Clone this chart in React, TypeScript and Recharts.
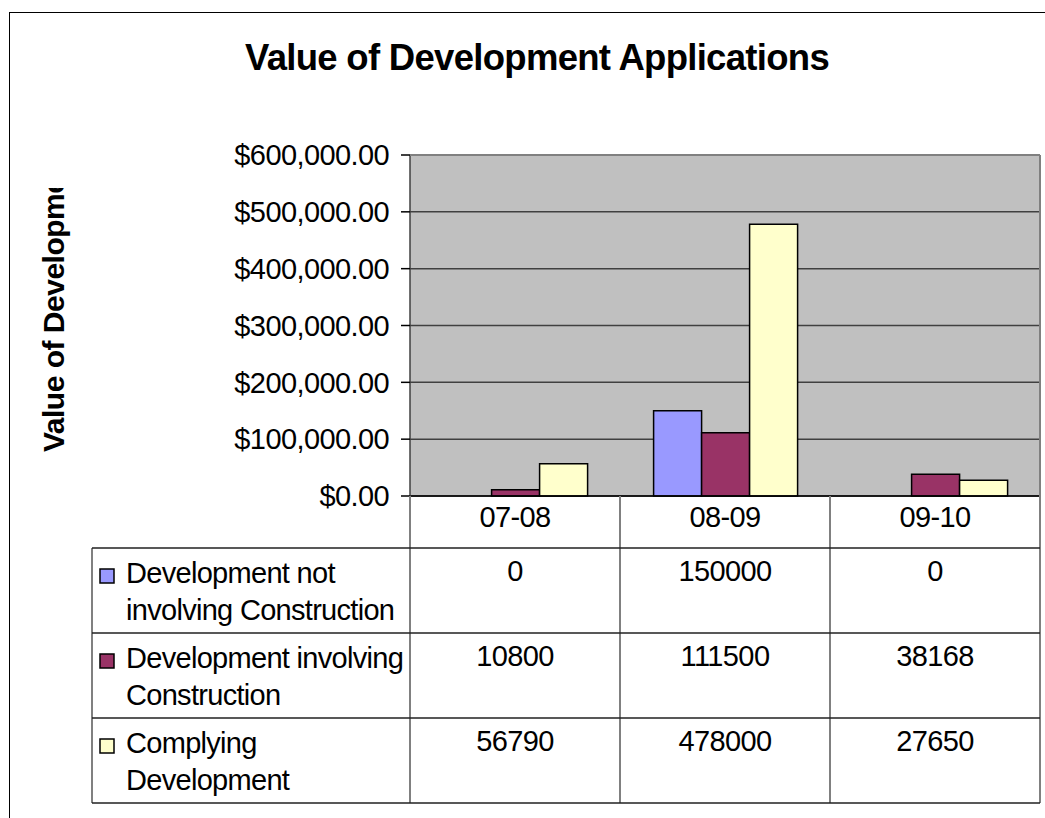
import { BarChart, Bar, XAxis, YAxis, CartesianGrid } from "recharts";

const categories = ["07-08", "08-09", "09-10"];
const notInvolvingConstruction = [0, 150000, 0];
const involvingConstruction = [10800, 111500, 38168];
const complyingDevelopment = [56790, 478000, 27650];
const yTicks = [0, 100000, 200000, 300000, 400000, 500000, 600000];

const seriesKeys = ["notInvolving", "involving", "complying"];
const seriesNames = [
  "Development not involving Construction",
  "Development involving Construction",
  "Complying Development",
];
const legendLines = [
  ["Development not", "involving Construction"],
  ["Development involving", "Construction"],
  ["Complying", "Development"],
];
const seriesColors = ["#9999FF", "#993366", "#FFFFCC"];
const seriesValues = [notInvolvingConstruction, involvingConstruction, complyingDevelopment];

const chartData = categories.map((cat, i) => ({
  cat,
  notInvolving: notInvolvingConstruction[i],
  involving: involvingConstruction[i],
  complying: complyingDevelopment[i],
}));

const W = 1045;
const H = 818;
const PLOT_L = 410;
const PLOT_R = 1040;
const PLOT_T = 155;
const PLOT_B = 496;
const Y_AXIS_W = 120;
const X_AXIS_H = 52;
const TABLE_L = 92;
const ROW_H = 85;
const FONT = "'Liberation Sans', Arial, sans-serif";
const TXT = 29;

const money = (v: number) =>
  "$" + v.toLocaleString("en-US", { minimumFractionDigits: 2, maximumFractionDigits: 2 });

const CategoryTick = (props: any) => {
  const { x, y, payload } = props;
  return (
    <text x={x} y={y + 31} textAnchor="middle" fontSize={TXT} fontFamily={FONT} fill="#000" letterSpacing={-0.6}>
      {payload.value}
    </text>
  );
};

const DataTable = () => {
  const colW = (PLOT_R - PLOT_L) / categories.length;
  const tableTop = PLOT_B + X_AXIS_H;
  const tableBottom = tableTop + ROW_H * seriesNames.length;
  return (
    <svg width={W} height={H} style={{ position: "absolute", left: 0, top: 0, pointerEvents: "none" }}>
      <defs>
        <clipPath id="ylabel-clip">
          <rect x={0} y={188} width={120} height={400} />
        </clipPath>
      </defs>
      <text x={537} y={70} textAnchor="middle" fontSize={36.5} fontWeight="bold" fontFamily={FONT} fill="#000" letterSpacing={-0.7}>
        Value of Development Applications
      </text>
      <g clipPath="url(#ylabel-clip)">
        <text
          x={64}
          y={452}
          transform="rotate(-90, 64, 452)"
          fontSize={30}
          fontWeight="bold"
          fontFamily={FONT}
          fill="#000"
          letterSpacing={-0.5}
        >
          Value of Development
        </text>
      </g>
      {/* plot border */}
      <line x1={PLOT_L} y1={PLOT_T} x2={PLOT_R} y2={PLOT_T} stroke="#808080" strokeWidth={2} />
      <line x1={PLOT_R} y1={PLOT_T} x2={PLOT_R} y2={PLOT_B} stroke="#808080" strokeWidth={2} />
      {/* table lines */}
      {categories.map((_, i) => (
        <line key={"v" + i} x1={PLOT_L + colW * i} y1={PLOT_B} x2={PLOT_L + colW * i} y2={tableBottom} stroke="#808080" strokeWidth={2} />
      ))}
      <line x1={PLOT_R} y1={PLOT_B} x2={PLOT_R} y2={tableBottom} stroke="#808080" strokeWidth={2} />
      <line x1={TABLE_L} y1={tableTop} x2={TABLE_L} y2={tableBottom} stroke="#808080" strokeWidth={2} />
      {seriesNames.map((_, r) => (
        <line key={"h" + r} x1={TABLE_L} y1={tableTop + ROW_H * r} x2={PLOT_R} y2={tableTop + ROW_H * r} stroke="#202020" strokeWidth={1.5} />
      ))}
      <line x1={TABLE_L} y1={tableBottom} x2={PLOT_R} y2={tableBottom} stroke="#202020" strokeWidth={1.5} />
      {seriesNames.map((name, r) => {
        const base = tableTop + ROW_H * r + 35;
        return (
          <g key={name}>
            <rect x={100} y={base - 14} width={14} height={14} fill={seriesColors[r]} stroke="#000" strokeWidth={1.5} />
            {legendLines[r].map((ln, k) => (
              <text key={k} x={126} y={base + 37 * k} fontSize={TXT} fontFamily={FONT} fill="#000" letterSpacing={-0.7}>
                {ln}
              </text>
            ))}
            {seriesValues[r].map((v, c) => (
              <text
                key={c}
                x={PLOT_L + colW * (c + 0.5)}
                y={base - 2}
                textAnchor="middle"
                fontSize={TXT}
                fontFamily={FONT}
                fill="#000"
                letterSpacing={-0.6}
              >
                {String(v)}
              </text>
            ))}
          </g>
        );
      })}
    </svg>
  );
};

export default function App() {
  return (
    <div style={{ position: "fixed", left: 0, top: 0, width: W, height: H, overflow: "hidden", background: "#fff" }}>
      <div
        style={{
          position: "absolute",
          left: 9,
          top: 12,
          width: 2000,
          height: 2000,
          border: "1px solid #000",
          boxSizing: "border-box",
        }}
      />
      <div style={{ position: "absolute", left: 0, top: 0 }}>
        <BarChart
          width={W}
          height={H}
          data={chartData}
          margin={{ top: PLOT_T, right: W - PLOT_R, bottom: H - PLOT_B - X_AXIS_H, left: PLOT_L - Y_AXIS_W }}
          barCategoryGap="16%"
          barGap={0}
        >
          <CartesianGrid vertical={false} stroke="#404040" strokeWidth={1.5} fill="#C0C0C0" fillOpacity={1} />
          <XAxis
            dataKey="cat"
            height={X_AXIS_H}
            axisLine={{ stroke: "#000", strokeWidth: 1.5 }}
            tickLine={false}
            tickSize={0}
            tickMargin={0}
            tick={<CategoryTick />}
            interval={0}
          />
          <YAxis
            width={Y_AXIS_W}
            domain={[0, 600000]}
            ticks={yTicks}
            interval={0}
            tickFormatter={money}
            axisLine={{ stroke: "#404040", strokeWidth: 1.5 }}
            tickLine={{ stroke: "#000", strokeWidth: 1.5 }}
            tickSize={9}
            tickMargin={12}
            tick={{ fill: "#000", fontSize: TXT, fontFamily: FONT, letterSpacing: -0.6 }}
          />
          {seriesKeys.map((k, i) => (
            <Bar
              key={k}
              dataKey={k}
              name={seriesNames[i]}
              fill={seriesColors[i]}
              stroke="#000"
              strokeWidth={1.5}
              isAnimationActive={false}
            />
          ))}
        </BarChart>
      </div>
      <DataTable />
    </div>
  );
}
